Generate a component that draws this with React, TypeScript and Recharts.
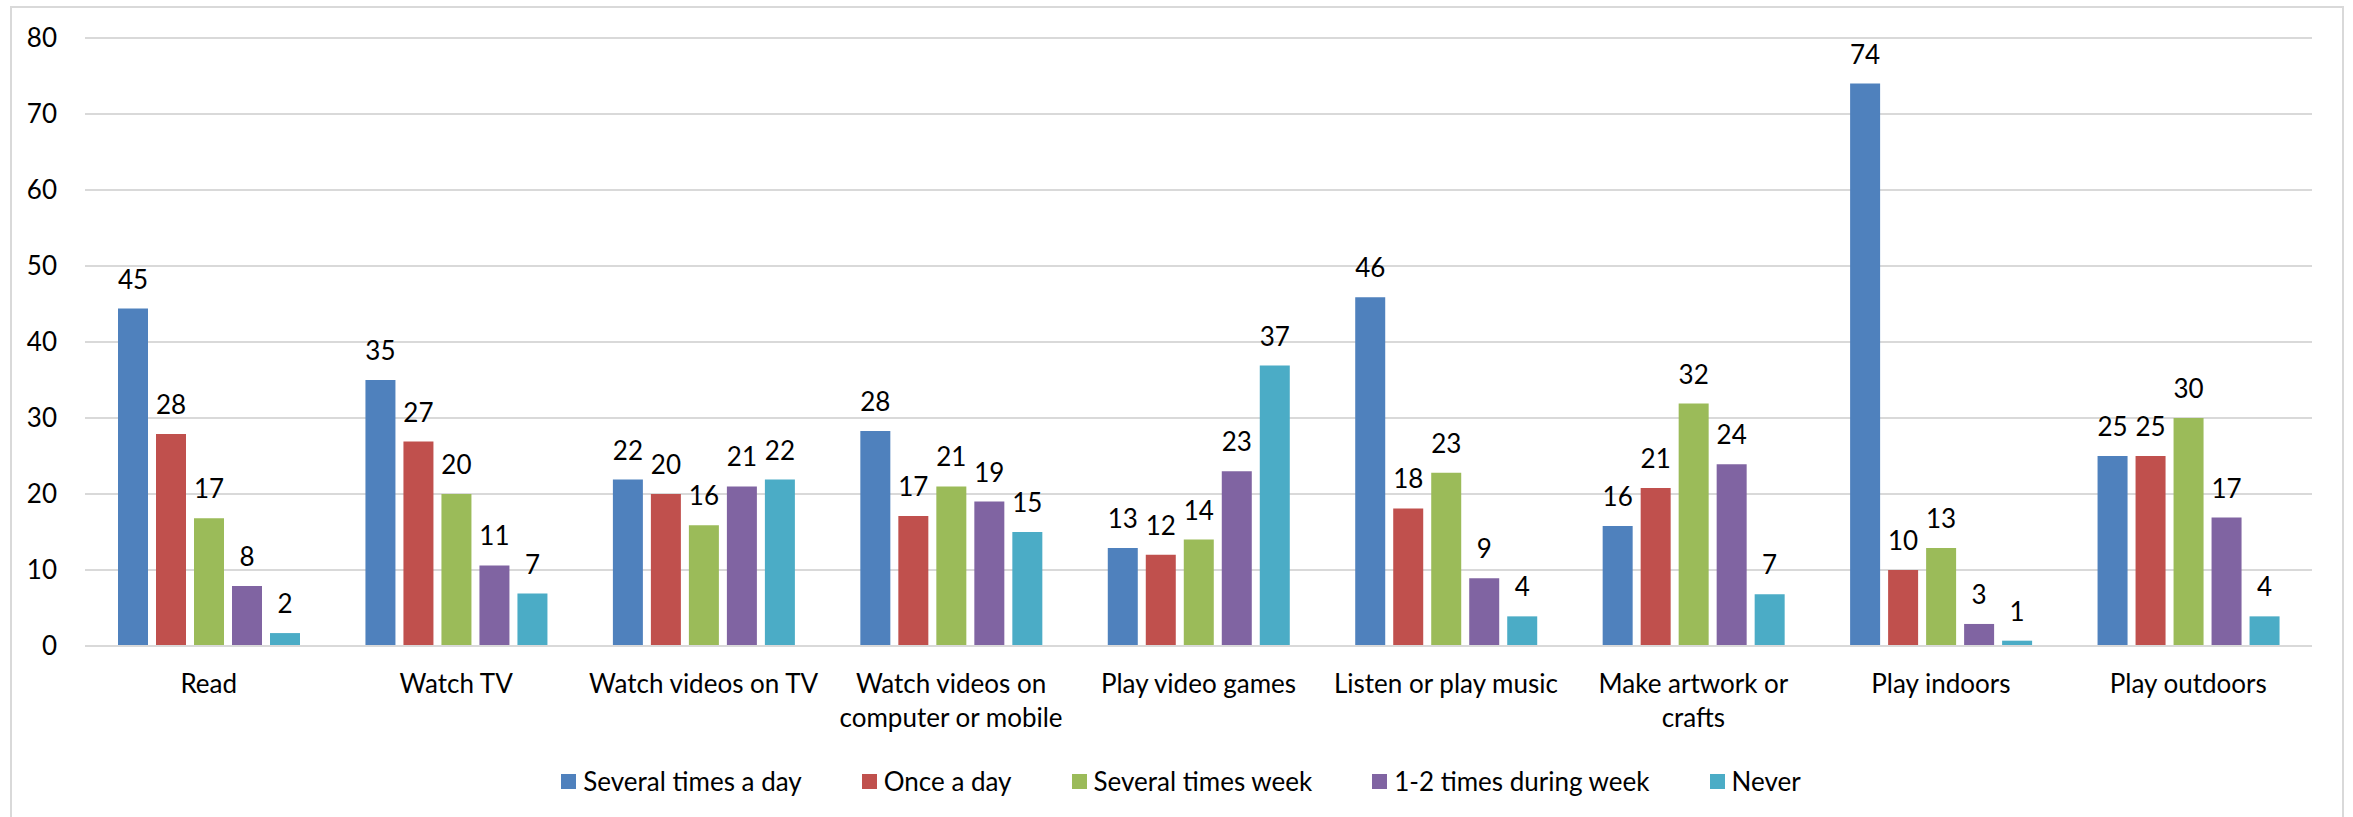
import { BarChart, Bar, XAxis, YAxis, CartesianGrid, Legend, LabelList } from "recharts";

const categories = [
  "Read",
  "Watch TV",
  "Watch videos on TV",
  "Watch videos on\ncomputer or mobile",
  "Play video games",
  "Listen or play music",
  "Make artwork or\ncrafts",
  "Play indoors",
  "Play outdoors",
];

const seriesNames = ["Several times a day", "Once a day", "Several times week", "1-2 times during week", "Never"];
const colors = ["#4F81BD", "#C0504D", "#9BBB59", "#8064A2", "#4BACC6"];

// bar heights
const severalDay = [44.4, 35, 21.9, 28.3, 12.9, 45.9, 15.8, 74, 25];
const onceDay = [27.9, 26.9, 20, 17.1, 12, 18.1, 20.8, 10, 25];
const severalWeek = [16.8, 20, 15.9, 21, 14, 22.8, 31.9, 12.9, 30];
const timesWeek = [7.9, 10.6, 21, 19, 23, 8.9, 23.9, 2.9, 16.9];
const never = [1.7, 6.9, 21.9, 15, 36.9, 3.9, 6.8, 0.7, 3.9];

// data labels as printed
const severalDayLbl = [45, 35, 22, 28, 13, 46, 16, 74, 25];
const onceDayLbl = [28, 27, 20, 17, 12, 18, 21, 10, 25];
const severalWeekLbl = [17, 20, 16, 21, 14, 23, 32, 13, 30];
const timesWeekLbl = [8, 11, 21, 19, 23, 9, 24, 3, 17];
const neverLbl = [2, 7, 22, 15, 37, 4, 7, 1, 4];

const yTicks = [0, 10, 20, 30, 40, 50, 60, 70, 80];

const series = [severalDay, onceDay, severalWeek, timesWeek, never];
const labels = [severalDayLbl, onceDayLbl, severalWeekLbl, timesWeekLbl, neverLbl];

const data = categories.map((name, i) => {
  const row: Record<string, string | number> = { name };
  series.forEach((s, k) => {
    row[`v${k}`] = s[i];
    row[`l${k}`] = labels[k][i];
  });
  return row;
});

const FONT = "Lato, 'Open Sans', sans-serif";

const CategoryTick = (props: any) => {
  const { x, y, payload } = props;
  const lines = String(payload.value).split("\n");
  return (
    <text x={x} y={y} textAnchor="middle" fill="#000" fontSize={26} fontFamily={FONT}>
      {lines.map((line, i) => (
        <tspan key={i} x={x} dy={i === 0 ? 39 : 34}>
          {line}
        </tspan>
      ))}
    </text>
  );
};

const LegendContent = () => (
  <div
    style={{
      display: "flex",
      justifyContent: "center",
      alignItems: "center",
      height: 30,
      fontFamily: FONT,
      fontSize: 26,
      color: "#000",
    }}
  >
    {seriesNames.map((n, i) => (
      <div key={n} style={{ display: "flex", alignItems: "center", marginRight: i < seriesNames.length - 1 ? 60 : 0 }}>
        <span style={{ width: 15, height: 15, background: colors[i], marginRight: 7, display: "inline-block" }} />
        <span style={{ lineHeight: "30px", whiteSpace: "nowrap" }}>{n}</span>
      </div>
    ))}
  </div>
);

export default function App() {
  return (
    <div style={{ position: "absolute", left: 0, top: 0, width: 2353, height: 817, background: "#fff", overflow: "hidden" }}>
      <div
        style={{
          position: "absolute",
          left: 10,
          top: 6,
          width: 2330,
          height: 840,
          border: "2px solid #D9D9D9",
        }}
      />
      <div style={{ position: "absolute", left: 0, top: 0 }}>
        <BarChart
          width={2353}
          height={817}
          data={data}
          margin={{ top: 38, right: 41, left: 10, bottom: 21 }}
          barCategoryGap={33}
          barGap={8}
        >
          <CartesianGrid vertical={false} stroke="#D9D9D9" strokeWidth={2} />
          <XAxis
            dataKey="name"
            interval={0}
            height={120}
            tickLine={false}
            axisLine={{ stroke: "#D9D9D9", strokeWidth: 2 }}
            tick={<CategoryTick />}
          />
          <YAxis
            domain={[0, 80]}
            ticks={yTicks}
            width={75}
            axisLine={false}
            tickLine={false}
            tickMargin={22}
            tick={{ fill: "#000", fontSize: 26, fontFamily: FONT }}
          />
          <Legend verticalAlign="bottom" content={<LegendContent />} wrapperStyle={{ left: 0, width: 2362 }} />
          {seriesNames.map((n, k) => (
            <Bar key={n} dataKey={`v${k}`} name={n} fill={colors[k]} isAnimationActive={false}>
              <LabelList dataKey={`l${k}`} position="top" offset={20} fill="#000" fontSize={26} fontFamily={FONT} />
            </Bar>
          ))}
        </BarChart>
      </div>
    </div>
  );
}
